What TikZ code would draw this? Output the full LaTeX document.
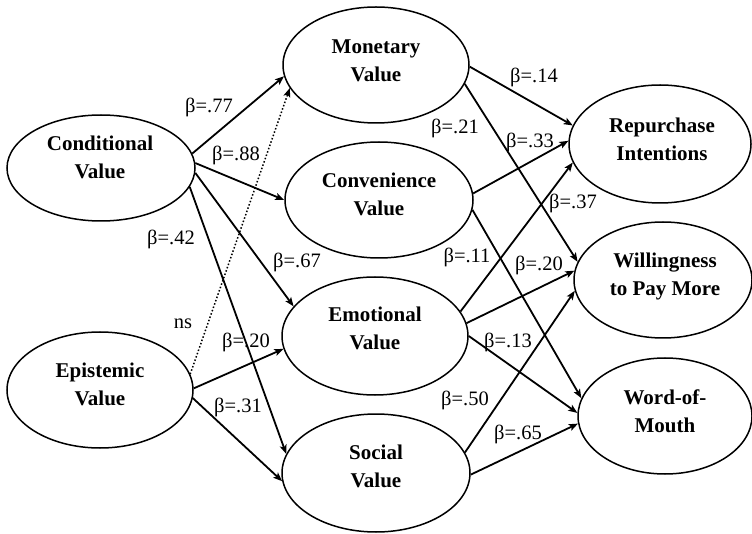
\documentclass[tikz,border=0pt]{standalone}
\usepackage{fontspec}
\setmainfont{Liberation Serif}
\usetikzlibrary{shapes.geometric,arrows.meta}

\tikzset{
  construct/.style={draw, line width=1.5pt, ellipse, inner sep=0pt},
  cname/.style={font=\fontsize{21}{28}\selectfont\bfseries, align=center, inner sep=0pt},
  path/.style={line width=1.8pt, -{Stealth[length=9pt,width=7pt,inset=2pt]}},
  nspath/.style={line width=1.5pt, dotted, -{Stealth[length=9pt,width=7pt,inset=2pt]}},
  coef/.style={font=\fontsize{20.5}{22}\selectfont, inner sep=0pt}
}

\begin{document}
\begin{tikzpicture}[x=1pt, y=-1pt]
\useasboundingbox (0,0) rectangle (752,534);

% exogenous constructs
\node[construct, minimum width=188pt, minimum height=106pt] (cond) at (101,168) {};
\node[construct, minimum width=186pt, minimum height=116pt] (epi)  at (100,390) {};

% mediating constructs
\node[construct, minimum width=186pt, minimum height=116pt] (mon)  at (376,65)  {};
\node[construct, minimum width=188pt, minimum height=116pt] (conv) at (379,200) {};
\node[construct, minimum width=186pt, minimum height=118pt] (emo)  at (375,336) {};
\node[construct, minimum width=188pt, minimum height=118pt] (soc)  at (376,473) {};

% outcome constructs
\node[construct, minimum width=182pt, minimum height=118pt] (rep)  at (660,144) {};
\node[construct, minimum width=178pt, minimum height=116pt] (wil)  at (663,280) {};
\node[construct, minimum width=174pt, minimum height=116pt] (wom)  at (665,416) {};

% construct names
\node[cname] (condT) at (100,157.5) {Conditional\\Value};
\node[cname] (epiT)  at (100,384.5) {Epistemic\\Value};
\node[cname] (monT)  at (376,61)    {Monetary\\Value};
\node[cname] (convT) at (379,194)   {Convenience\\Value};
\node[cname] (emoT)  at (375,328.5) {Emotional\\Value};
\node[cname] (socT)  at (376,466)   {Social\\Value};
\node[cname] (repT)  at (662,139)   {Repurchase\\Intentions};
\node[cname] (wilT)  at (665,276.5) {Willingness\\to Pay More};
\node[cname] (womT)  at (665,411.5) {Word-of-\\Mouth};

% paths from the exogenous constructs
\draw[path] (cond.9.9)  -- (mon.187.9);
\draw[path] (cond.3.7)  -- (conv.180);
\draw[path] (cond.-3.1) -- (emo.160.1);
\draw[path] (cond.-12.5) -- (soc.168.2);
\draw[nspath] (epi.10.1) -- (mon.195.7);
\draw[path] (epi.1.8)   -- (emo.188);
\draw[path] (epi.-5.5)  -- (soc.185.5);

% paths to the outcome constructs
\draw[path] (mon.-1.8)  -- (rep.168);
\draw[path] (mon.-12.8) -- (wil.168);
\draw[path] (conv.4.8)  -- (rep.178.7);
\draw[path] (conv.-6.1) -- (wom.168.8);
\draw[path] (emo.16.3)  -- (rep.192);
\draw[path] (emo.8.5)   -- (wil.174.9);
\draw[path] (emo.-0.6)  -- (wom.178.7);
\draw[path] (soc.13.1)  -- (wil.187.9);
\draw[path] (soc.-1.2)  -- (wom.185.9);

% path coefficients
\node[coef] (b77) at (209,107) {β=.77};
\node[coef] (b88) at (236,155) {β=.88};
\node[coef] (b42) at (171,239) {β=.42};
\node[coef] (b67) at (297,262) {β=.67};
\node[coef] (bns) at (183,324) {ns};
\node[coef] (b20a) at (246,342) {β=.20};
\node[coef] (b31) at (238,407) {β=.31};
\node[coef] (b14) at (534,77)  {β=.14};
\node[coef] (b21) at (455,128) {β=.21};
\node[coef] (b33) at (530,142) {β=.33};
\node[coef] (b37) at (573,203) {β=.37};
\node[coef] (b11) at (467,257) {β=.11};
\node[coef] (b20b) at (539,265) {β=.20};
\node[coef] (b13) at (508,342) {β=.13};
\node[coef] (b50) at (465,400) {β=.50};
\node[coef] (b65) at (518,434) {β=.65};
\end{tikzpicture}
\end{document}
